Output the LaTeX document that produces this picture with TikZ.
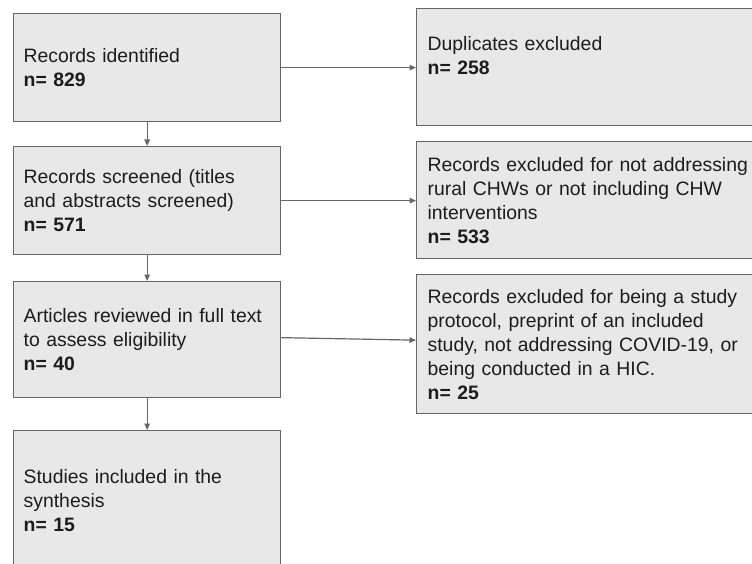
\documentclass[tikz,border=0pt]{standalone}
\usepackage{fontspec}
\setmainfont{Liberation Sans}
\usepackage{xcolor}
\usetikzlibrary{calc, positioning, arrows.meta}
\definecolor{boxfill}{HTML}{E8E8E8}
\definecolor{boxline}{HTML}{666666}
\definecolor{inktext}{HTML}{1C1C1C}
\tikzset{
    flowbox/.style={draw=boxline, fill=boxfill, line width=1.3pt, align=left,
        anchor=north west, inner xsep=10pt, text=inktext,
        font=\fontsize{19.4}{24}\selectfont},
    leftbox/.style={flowbox, text width=247pt},
    rightbox/.style={flowbox, text width=340pt, inner xsep=11pt},
    flowarrow/.style={draw=boxline, line width=1.2pt, -{Triangle[length=6.5pt,width=5.5pt]}}
}

\begin{document}
\begin{tikzpicture}[x=1pt, y=-1pt]
    \useasboundingbox (0,0) rectangle (752,564);
    \clip (0,0) rectangle (752,564);
    % left column
    \node[leftbox, minimum height=108pt] (ident) at (13,13) {Records identified\\ \textbf{n= 829}};
    \node[leftbox, minimum height=108pt] (screen) at (13,146) {Records screened (titles\\ and abstracts screened)\\ \textbf{n= 571}};
    \node[leftbox, minimum height=116pt] (review) at (13,281) {Articles reviewed in full text\\ to assess eligibility\\ \textbf{n= 40}};
    \node[leftbox, minimum height=140pt] (incl) at (13,430) {Studies included in the\\ synthesis\\ \textbf{n= 15}};
    % right column
    \node[rightbox, minimum height=117pt] (dupl) at (416,8) {Duplicates excluded\\ \textbf{n= 258}\\ ~};
    \node[rightbox, minimum height=117pt] (excl) at (416,141) {Records excluded for not addressing\\ rural CHWs or not including CHW\\ interventions\\ \textbf{n= 533}};
    \node[rightbox, minimum height=139pt] (prot) at (416,274) {Records excluded for being a study\\ protocol, preprint of an included\\ study, not addressing COVID-19, or\\ being conducted in a HIC.\\ \textbf{n= 25}};
    % connectors
    \draw[flowarrow] (ident) -- (screen);
    \draw[flowarrow] (screen) -- (review);
    \draw[flowarrow] (review) -- (incl);
    \draw[flowarrow] (ident.east) -- (ident.east -| dupl.west);
    \draw[flowarrow] (screen.east) -- (screen.east -| excl.west);
    \draw[flowarrow] ($(review.east)+(0,-2)$) -- ($(prot.west)+(0,-4)$);
\end{tikzpicture}
\end{document}
